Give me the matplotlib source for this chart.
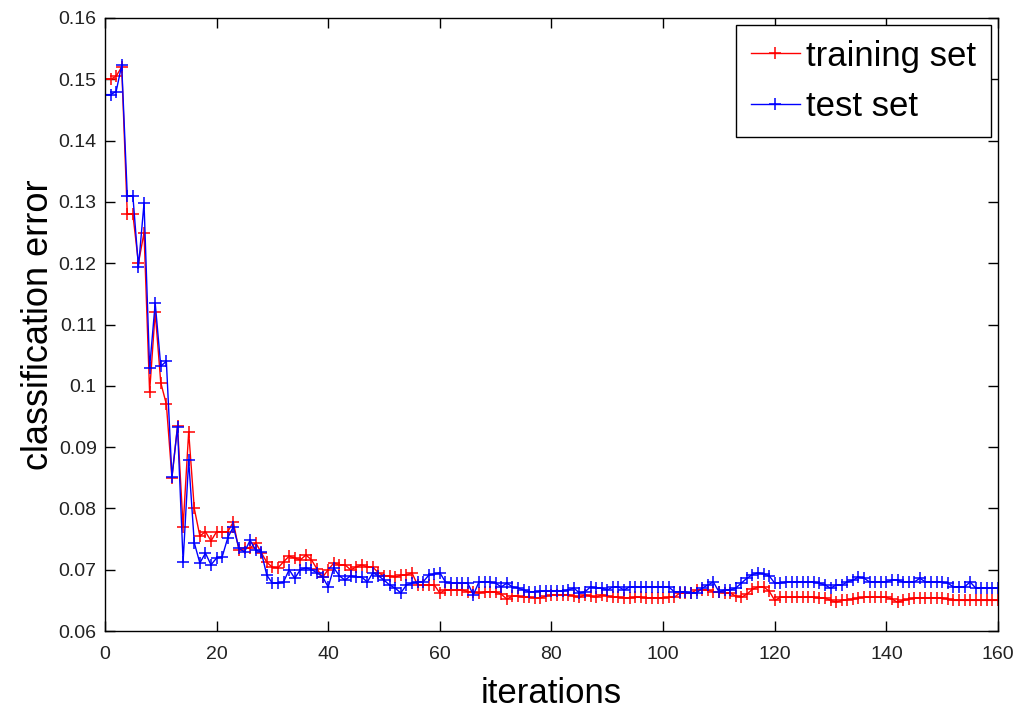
import numpy as np
import matplotlib
matplotlib.use("Agg")
import matplotlib.pyplot as plt

plt.rcParams['font.family'] = ['Liberation Sans', 'DejaVu Sans']

# classification error per iteration (iterations 0..160)
train_err = [
    0.150, 0.150, 0.1505, 0.152, 0.128, 0.128, 0.120, 0.125, 0.099, 0.112,
    0.1005, 0.097, 0.085, 0.0935, 0.077, 0.0925, 0.080, 0.0755, 0.0762, 0.0747,
    0.0762, 0.0762, 0.0762, 0.0778, 0.0732, 0.0735, 0.0735, 0.0744, 0.0728, 0.0712,
    0.0704, 0.0703, 0.0713, 0.0722, 0.0719, 0.0716, 0.0724, 0.0716, 0.0701, 0.0688,
    0.0700, 0.0711, 0.0708, 0.0708, 0.0700, 0.0704, 0.0708, 0.0704, 0.0704, 0.0695,
    0.0690, 0.0690, 0.0688, 0.0691, 0.0691, 0.0695, 0.0675, 0.0675, 0.0675, 0.0675,
    0.0662, 0.0667, 0.0667, 0.0667, 0.0667, 0.0664, 0.0664, 0.0662, 0.0664, 0.0664,
    0.0664, 0.0660, 0.0652, 0.0657, 0.0657, 0.0655, 0.0655, 0.0654, 0.0654, 0.0657,
    0.0659, 0.0659, 0.0659, 0.0659, 0.0657, 0.0655, 0.0659, 0.0657, 0.0655, 0.0659,
    0.0657, 0.0655, 0.0655, 0.0654, 0.0654, 0.0655, 0.0655, 0.0654, 0.0654, 0.0654,
    0.0654, 0.0655, 0.0655, 0.0662, 0.0662, 0.0662, 0.0667, 0.0667, 0.0667, 0.0664,
    0.0664, 0.0662, 0.0662, 0.0657, 0.0655, 0.0660, 0.0668, 0.0672, 0.0672, 0.0665,
    0.0650, 0.0655, 0.0655, 0.0655, 0.0655, 0.0655, 0.0655, 0.0655, 0.0654, 0.0654,
    0.0650, 0.0647, 0.0650, 0.0651, 0.0652, 0.0654, 0.0655, 0.0655, 0.0655, 0.0655,
    0.0655, 0.0652, 0.0647, 0.0650, 0.0652, 0.0654, 0.0654, 0.0654, 0.0654, 0.0654,
    0.0654, 0.0652, 0.0650, 0.0650, 0.0650, 0.0650, 0.0650, 0.0650, 0.0650, 0.0650,
    0.0650,
]

test_err = [
    0.1475, 0.1475, 0.148, 0.1523, 0.131, 0.131, 0.1194, 0.1298, 0.1029, 0.1135,
    0.1032, 0.104, 0.0851, 0.0933, 0.0713, 0.0879, 0.0744, 0.0711, 0.0727, 0.0708,
    0.0719, 0.0721, 0.0752, 0.0770, 0.0735, 0.0729, 0.0748, 0.0732, 0.0729, 0.0691,
    0.0678, 0.0678, 0.0680, 0.0700, 0.0686, 0.0700, 0.0703, 0.0700, 0.0695, 0.0688,
    0.0672, 0.0703, 0.0690, 0.0683, 0.0690, 0.0688, 0.0688, 0.0680, 0.0695, 0.0690,
    0.0683, 0.0675, 0.0670, 0.0662, 0.0675, 0.0678, 0.0680, 0.0680, 0.0691, 0.0693,
    0.0695, 0.0680, 0.0678, 0.0678, 0.0678, 0.0678, 0.0659, 0.0680, 0.0680, 0.0680,
    0.0678, 0.0672, 0.0678, 0.0672, 0.0670, 0.0667, 0.0664, 0.0664, 0.0665, 0.0665,
    0.0665, 0.0665, 0.0665, 0.0667, 0.0670, 0.0662, 0.0664, 0.0672, 0.0670, 0.0670,
    0.0667, 0.0672, 0.0672, 0.0667, 0.0672, 0.0672, 0.0672, 0.0672, 0.0672, 0.0672,
    0.0672, 0.0672, 0.0664, 0.0664, 0.0664, 0.0662, 0.0662, 0.0670, 0.0675, 0.0680,
    0.0664, 0.0667, 0.0667, 0.0670, 0.0678, 0.0686, 0.0692, 0.0695, 0.0693, 0.0690,
    0.0678, 0.0678, 0.0680, 0.0680, 0.0680, 0.0680, 0.0680, 0.0680, 0.0678, 0.0675,
    0.0670, 0.0675, 0.0675, 0.0680, 0.0683, 0.0688, 0.0686, 0.0680, 0.0680, 0.0680,
    0.0680, 0.0683, 0.0683, 0.0680, 0.0680, 0.0680, 0.0686, 0.0680, 0.0680, 0.0680,
    0.0680, 0.0678, 0.0672, 0.0672, 0.0672, 0.0680, 0.0670, 0.0670, 0.0670, 0.0670,
    0.0670,
]

iters = np.arange(len(train_err))

fig = plt.figure(figsize=(10.21, 7.11), dpi=100)
ax = fig.add_axes([0.1028, 0.1125, 0.8747, 0.8622])

ax.plot(iters, train_err, color='red', lw=1, marker='+', ms=9, mew=1.1,
        label='training set')
ax.plot(iters, test_err, color='blue', lw=1, marker='+', ms=9, mew=1.1,
        label='test set')

ax.set_xlim(0, 160)
ax.set_ylim(0.06, 0.16)
ax.set_xticks(np.arange(0, 161, 20))
ax.set_yticks(np.arange(0.06, 0.161, 0.01))
ax.set_yticklabels(['0.06', '0.07', '0.08', '0.09', '0.1', '0.11', '0.12',
                    '0.13', '0.14', '0.15', '0.16'])
ax.tick_params(direction='in', top=True, right=True, length=7, width=1,
               labelsize=14, labelcolor='#222222')
ax.tick_params(axis='x', pad=11)
ax.tick_params(axis='y', pad=6)
for s in ax.spines.values():
    s.set_linewidth(1)

ax.set_xlabel('iterations', fontsize=25, labelpad=10)
ax.set_ylabel('classification error', fontsize=26, labelpad=2)

leg = ax.legend(loc='upper right', fontsize=25, numpoints=1, fancybox=False,
                edgecolor='black', framealpha=1, handlelength=1.4,
                borderaxespad=0.2, labelspacing=0.5, handletextpad=0.2,
                borderpad=0.42)
leg.get_frame().set_linewidth(1)

fig.savefig('out.png', dpi=100)
